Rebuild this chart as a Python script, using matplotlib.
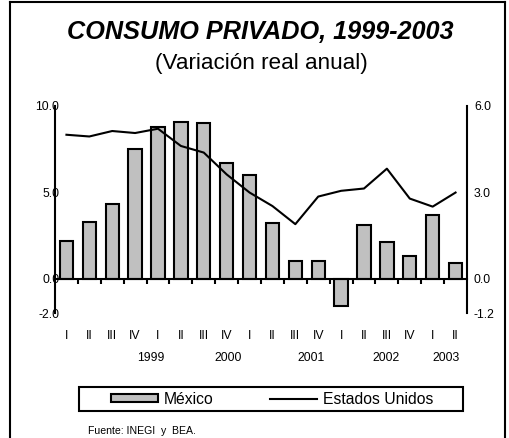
import matplotlib
matplotlib.use("Agg")
import matplotlib.pyplot as plt
from matplotlib.lines import Line2D
from matplotlib.patches import Patch, Rectangle
from matplotlib.transforms import blended_transform_factory
import numpy as np

plt.rcParams['font.family'] = ['Liberation Sans', 'DejaVu Sans']

quarters = ["I", "II", "III", "IV", "I", "II", "III", "IV", "I", "II", "III", "IV",
            "I", "II", "III", "IV", "I", "II"]
years = ["1999", "2000", "2001", "2002", "2003"]
mexico = [2.2, 3.3, 4.3, 7.5, 8.8, 9.1, 9.0, 6.7, 6.0, 3.2, 1.0, 1.0,
          -1.6, 3.1, 2.1, 1.3, 3.7, 0.9]
eeuu = [5.0, 4.94, 5.13, 5.06, 5.21, 4.61, 4.38, 3.62, 2.99, 2.52, 1.89, 2.85,
        3.05, 3.13, 3.82, 2.78, 2.50, 2.99]

# layout constants
year_label_x = [3.7, 7.05, 10.7, 13.97, 16.6]
W, H = 509, 438
fig = plt.figure(figsize=(W / 100, H / 100), dpi=100)

def fx(px):
    return px / W

def fy(py):
    return 1 - py / H

ax_left, ax_right, ax_top, ax_bot = 55, 467, 106, 313
ax = fig.add_axes([fx(ax_left), fy(ax_bot), fx(ax_right - ax_left), (ax_bot - ax_top) / H])
ax2 = ax.twinx()

x = np.arange(len(quarters))
ax.bar(x, mexico, width=0.58, color='#C0C0C0', edgecolor='black', linewidth=1.5, zorder=2)
ax2.plot(x, eeuu, color='black', linewidth=1.5, zorder=3)

ax.set_xlim(-0.5, len(quarters) - 0.5)
ax.set_ylim(-2, 10)
ax2.set_ylim(-1.2, 6)

ax.set_yticks([-2, 0, 5, 10])
ax.set_yticklabels(["-2.0", "0.0", "5.0", "10.0"])
ax2.set_yticks([-1.2, 0, 3, 6])
ax2.set_yticklabels(["-1.2", "0.0", "3.0", "6.0"])
ax.tick_params(axis='y', length=0, pad=-3, labelsize=8.8)
ax2.tick_params(axis='y', length=0, pad=5, labelsize=8.8)

for a in (ax, ax2):
    a.spines['top'].set_visible(False)
    a.spines['bottom'].set_visible(False)
    a.spines['left'].set_linewidth(1.5)
    a.spines['right'].set_linewidth(1.5)
ax2.spines['left'].set_visible(False)
ax.spines['right'].set_visible(False)
ax.spines['bottom'].set_visible(True)
ax.spines['bottom'].set_position(('data', 0))
ax.spines['bottom'].set_linewidth(1.5)
ax.spines['bottom'].set_zorder(4)

ax.set_xticks(x)
ax.set_xticklabels(quarters)
ax.set_xticks(np.arange(0.5, len(quarters) - 0.5, 1), minor=True)
ax.tick_params(axis='x', which='major', length=0, pad=37, labelsize=8.8)
ax.tick_params(axis='x', which='minor', length=3.5, width=1.5, direction='out')

tr = blended_transform_factory(ax.transData, ax.transAxes)
for xp, yl in zip(year_label_x, years):
    ax.text(xp, -0.217, yl, transform=tr, ha='center', va='center', fontsize=8.8)

# titles
fig.text(fx(260.5), fy(32), "CONSUMO PRIVADO, 1999-2003", ha='center', va='center',
         fontsize=18.2, fontweight='bold', fontstyle='italic')
fig.text(fx(261.5), fy(64), "(Variación real anual)", ha='center', va='center', fontsize=16.2)

# legend box
fig.patches.append(Rectangle((fx(79), fy(411)), fx(463 - 79), (411 - 387) / H,
                             transform=fig.transFigure, fill=False, edgecolor='black',
                             linewidth=1.5))
handles = [Patch(facecolor='#C0C0C0', edgecolor='black', linewidth=1.5),
           Line2D([], [], color='black', linewidth=1.5)]
fig.legend(handles, ["México", "Estados Unidos"], loc='center',
           bbox_to_anchor=(fx(272), fy(399)), ncol=2, frameon=False, fontsize=11.3,
           handlelength=3.0, handleheight=0.45, handletextpad=0.38, columnspacing=3.6,
           borderpad=0.1)

fig.text(fx(88), fy(431), "Fuente: INEGI  y  BEA.", ha='left', va='center', fontsize=7.6)

# outer frame
for (x0, y0, x1, y1) in [(10, 1.5, 505, 1.5), (10, 1.5, 10, 438), (505, 1.5, 505, 438)]:
    fig.add_artist(Line2D([fx(x0), fx(x1)], [fy(y0), fy(y1)], transform=fig.transFigure,
                          color='black', linewidth=1.5))

fig.savefig("out.png", dpi=100)
